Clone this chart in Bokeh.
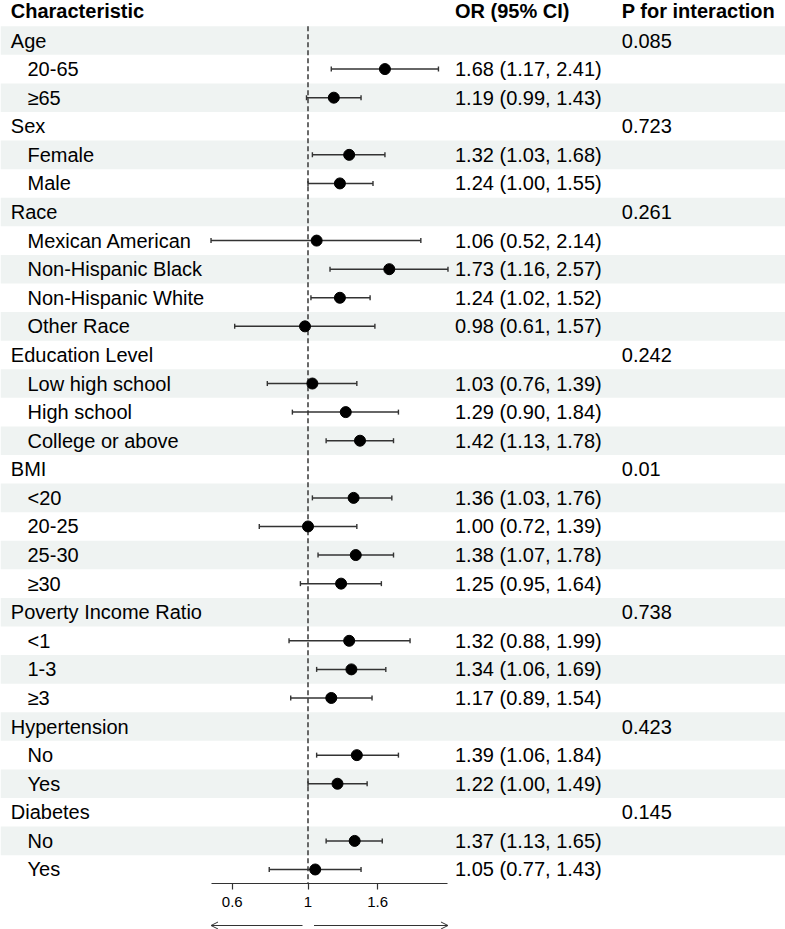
import math
from bokeh.plotting import figure
from bokeh.layouts import column
from bokeh.models import (ColumnDataSource, Range1d, LogScale, LogAxis, FixedTicker,
                          Arrow, OpenHead)
from bokeh.core.properties import value
from bokeh.embed import file_html
from bokeh.resources import INLINE

# ---------------- data ----------------
row_labels = ["Age", "20-65", "≥65",
              "Sex", "Female", "Male",
              "Race", "Mexican American", "Non-Hispanic Black", "Non-Hispanic White", "Other Race",
              "Education Level", "Low high school", "High school", "College or above",
              "BMI", "<20", "20-25", "25-30", "≥30",
              "Poverty Income Ratio", "<1", "1-3", "≥3",
              "Hypertension", "No", "Yes",
              "Diabetes", "No", "Yes"]
row_is_group = [True, False, False,
                True, False, False,
                True, False, False, False, False,
                True, False, False, False,
                True, False, False, False, False,
                True, False, False, False,
                True, False, False,
                True, False, False]
or_est = [None, 1.68, 1.19,
          None, 1.32, 1.24,
          None, 1.06, 1.73, 1.24, 0.98,
          None, 1.03, 1.29, 1.42,
          None, 1.36, 1.00, 1.38, 1.25,
          None, 1.32, 1.34, 1.17,
          None, 1.39, 1.22,
          None, 1.37, 1.05]
ci_low = [None, 1.17, 0.99,
          None, 1.03, 1.00,
          None, 0.52, 1.16, 1.02, 0.61,
          None, 0.76, 0.90, 1.13,
          None, 1.03, 0.72, 1.07, 0.95,
          None, 0.88, 1.06, 0.89,
          None, 1.06, 1.00,
          None, 1.13, 0.77]
ci_high = [None, 2.41, 1.43,
           None, 1.68, 1.55,
           None, 2.14, 2.57, 1.52, 1.57,
           None, 1.39, 1.84, 1.78,
           None, 1.76, 1.39, 1.78, 1.64,
           None, 1.99, 1.69, 1.54,
           None, 1.84, 1.49,
           None, 1.65, 1.43]
p_text = ["0.085", "", "",
          "0.723", "", "",
          "0.261", "", "", "", "",
          "0.242", "", "", "",
          "0.01", "", "", "", "",
          "0.738", "", "", "",
          "0.423", "", "",
          "0.145", "", ""]
header_labels = ["Characteristic", "OR (95% CI)", "P for interaction"]
ref_value = 1
tick_values = [0.6, 1, 1.6]
tick_labels = ["0.6", "1", "1.6"]

# ---------------- layout constants ----------------
W = 785
FRAME_H = 883
BORDER_B = 34
ARROW_H = 12
ROW_PITCH = 28.586
ROW0_PX = 40.0
ROW_TOP = -ROW0_PX / ROW_PITCH
ROW_BOTTOM = ROW_TOP + FRAME_H / ROW_PITCH
HEADER_Y = -1.02
REF_PX = 307.5        # pixel of OR = 1
PX_PER_LN = 148.3     # pixels per natural-log unit
X_GROUP = 10.3
X_SUB = 27.0
X_OR = 454.5
X_P = 621.3
FONT_NAME = "Liberation Sans"
FONT = value(FONT_NAME)
FS = "20px"
STRIPE = "#eff3f2"
INK = "#333333"

or_lo = math.exp((0 - REF_PX) / PX_PER_LN)
or_hi = math.exp((W - REF_PX) / PX_PER_LN)

n = len(row_labels)
ys = list(range(n))

# ---------------- main figure ----------------
p = figure(width=W, height=FRAME_H + BORDER_B,
           x_range=Range1d(0, W), y_range=Range1d(ROW_BOTTOM, ROW_TOP),
           extra_x_ranges={"or": Range1d(or_lo, or_hi)},
           extra_x_scales={"or": LogScale()},
           x_axis_location=None, y_axis_location=None,
           toolbar_location=None, output_backend="svg",
           min_border_left=0, min_border_right=0, min_border_top=0,
           min_border_bottom=BORDER_B, outline_line_color=None)
p.grid.visible = False
p.background_fill_color = "white"
p.border_fill_color = "white"

# stripes
stripe_y = [y for y in ys if y % 2 == 0]
p.quad(left=0, right=W, bottom=[y + 0.5 for y in stripe_y], top=[y - 0.5 for y in stripe_y],
       fill_color=STRIPE, line_color=None)

# reference line
p.segment(x0=[ref_value], x1=[ref_value], y0=[-0.5], y1=[ROW_BOTTOM], x_range_name="or",
          line_color="#444444", line_width=1.6, line_dash="5 3")

# CI and points
sub = [i for i in ys if not row_is_group[i]]
src = ColumnDataSource(dict(
    y=[ys[i] for i in sub],
    est=[or_est[i] for i in sub],
    lo=[ci_low[i] for i in sub],
    hi=[ci_high[i] for i in sub],
))
p.segment(x0="lo", x1="hi", y0="y", y1="y", source=src, x_range_name="or",
          line_color=INK, line_width=1.5)
p.scatter(x="lo", y="y", source=src, x_range_name="or", marker="dash", angle=math.pi / 2,
          size=5, line_color=INK, line_width=1.4)
p.scatter(x="hi", y="y", source=src, x_range_name="or", marker="dash", angle=math.pi / 2,
          size=5, line_color=INK, line_width=1.4)
p.scatter(x="est", y="y", source=src, x_range_name="or", marker="circle", size=11,
          fill_color="black", line_color="black")

# texts
lab_x = [X_GROUP if row_is_group[i] else X_SUB for i in ys]
p.text(x=lab_x, y=ys, text=row_labels, text_font=FONT, text_font_size=FS,
       text_baseline="middle", text_align="left", text_color="black")
or_txt = [f"{or_est[i]:.2f} ({ci_low[i]:.2f}, {ci_high[i]:.2f})" for i in sub]
p.text(x=[X_OR] * len(sub), y=[ys[i] for i in sub], text=or_txt, text_font=FONT,
       text_font_size=FS, text_baseline="middle", text_align="left", text_color="black")
p_rows = [i for i in ys if p_text[i]]
p.text(x=[X_P] * len(p_rows), y=[ys[i] for i in p_rows], text=[p_text[i] for i in p_rows],
       text_font=FONT, text_font_size=FS, text_baseline="middle", text_align="left",
       text_color="black")
p.text(x=[X_GROUP, X_OR, X_P], y=[HEADER_Y] * 3, text=header_labels, text_font=FONT,
       text_font_size=FS, text_font_style="bold", text_baseline="middle", text_align="left",
       text_color="black")

# axis
lo_bound = min(v for v in ci_low if v is not None)
hi_bound = max(v for v in ci_high if v is not None)
ax = LogAxis(x_range_name="or", ticker=FixedTicker(ticks=tick_values),
             bounds=(lo_bound, hi_bound),
             major_label_overrides={t: l for t, l in zip(tick_values, tick_labels)},
             major_tick_out=6, major_tick_in=0, minor_tick_out=0, minor_tick_in=0,
             axis_line_color=INK, major_tick_line_color=INK, axis_line_width=1.2,
             major_tick_line_width=1.2,
             major_label_text_font=FONT_NAME, major_label_text_font_size="15px",
             major_label_text_color="black", major_label_standoff=7)
p.add_layout(ax, "below")

# ---------------- arrow strip ----------------
p2 = figure(width=W, height=ARROW_H, x_axis_type="log",
            x_range=Range1d(or_lo, or_hi), y_range=Range1d(0, ARROW_H),
            x_axis_location=None, y_axis_location=None,
            toolbar_location=None, output_backend="svg",
            min_border_left=0, min_border_right=0, min_border_top=0, min_border_bottom=0,
            outline_line_color=None)
p2.grid.visible = False
ARROW_Y = 4
GAP_L = 5.5
GAP_R = 6.0
p2.add_layout(Arrow(x_start=ref_value * math.exp(-GAP_L / PX_PER_LN), y_start=ARROW_Y,
                    x_end=lo_bound, y_end=ARROW_Y, line_color=INK, line_width=1,
                    end=OpenHead(size=7, line_color=INK, line_width=1)))
p2.add_layout(Arrow(x_start=ref_value * math.exp(GAP_R / PX_PER_LN), y_start=ARROW_Y,
                    x_end=hi_bound, y_end=ARROW_Y, line_color=INK, line_width=1,
                    end=OpenHead(size=7, line_color=INK, line_width=1)))

layout = column(p, p2, spacing=0)
open("out.html", "w").write(file_html(layout, INLINE))
